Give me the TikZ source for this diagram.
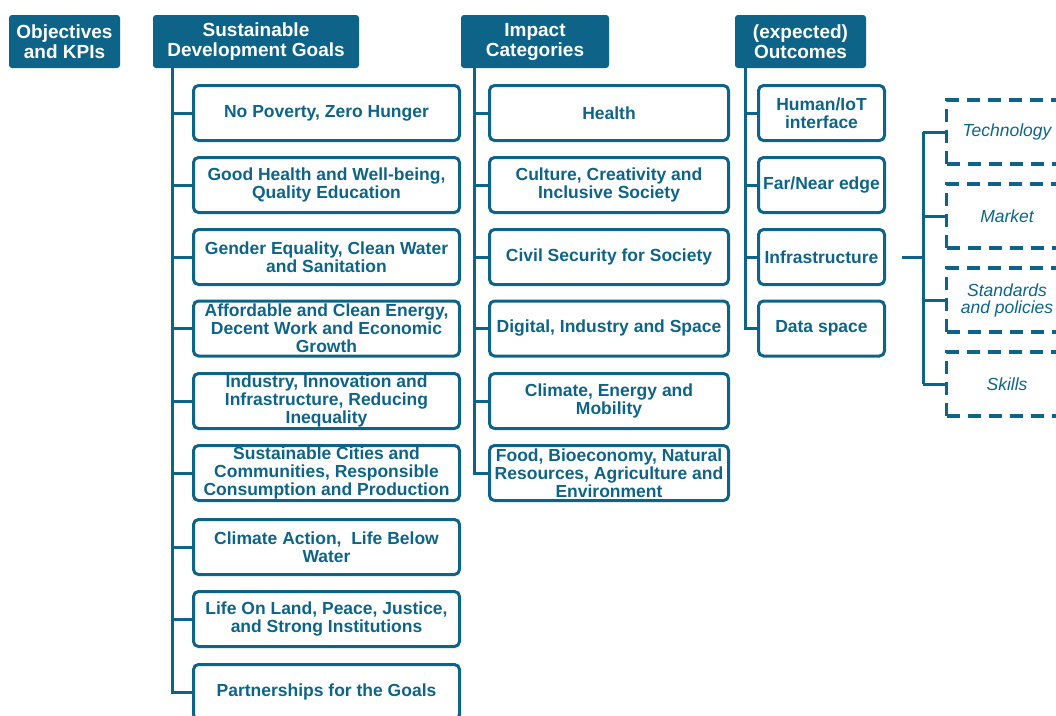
\documentclass[tikz,border=0pt]{standalone}
\usepackage{fontspec}
\setmainfont{Liberation Sans}
\definecolor{sdgblue}{RGB}{14,100,136}

\begin{document}
\begin{tikzpicture}[x=1pt,y=-1pt,line width=3pt]

      \useasboundingbox (0,0) rectangle (1056,715);
      \clip (0,0) rectangle (1056,715);

      % column headers
      \begin{scope}[every node/.style={fill=sdgblue,text=white,rounded corners=3pt,inner sep=0pt,
          minimum height=53pt,align=center,font=\bfseries\fontsize{19}{20}\selectfont}]
        \node[minimum width=111pt] (obj) at (64.5,41.5)  {Objectives\\and KPIs};
        \node[minimum width=206pt] (sdg) at (256,41.5)   {Sustainable\\Development Goals};
        \node[minimum width=148pt] (imp) at (535,41.5)   {Impact\\Categories};
        \node[minimum width=131pt] (out) at (800.5,41.5) {(expected)\\Outcomes};
      \end{scope}

      % solid boxes
      \begin{scope}[every node/.style={draw=sdgblue,text=sdgblue,rounded corners=5pt,inner sep=0pt,
          line width=3pt,minimum height=55pt,align=center,font=\bfseries\fontsize{17.5}{18}\selectfont}]
        \begin{scope}[every node/.append style={minimum width=266pt}]
          \node (g1) at (326.5,113)   {No Poverty, Zero Hunger};
          \node (g2) at (326.5,185)   {Good Health and Well-being,\\Quality Education};
          \node (g3) at (326.5,257)   {Gender Equality, Clean Water\\and Sanitation};
          \node (g4) at (326.5,328.5) {Affordable and Clean Energy,\\Decent Work and Economic\\Growth};
          \node (g5) at (326.5,401)   {Industry, Innovation and\\Infrastructure, Reducing\\Inequality};
          \node (g6) at (326.5,473)   {Sustainable Cities and\\Communities, Responsible\\Consumption and Production};
          \node (g7) at (326.5,547)   {Climate Action,\ \ Life Below\\Water};
          \node (g8) at (326.5,619)   {Life On Land, Peace, Justice,\\and Strong Institutions};
          \node (g9) at (326.5,692)   {Partnerships for the Goals};
        \end{scope}
        \begin{scope}[every node/.append style={minimum width=239pt}]
          \node (c1) at (609,113)   {Health};
          \node (c2) at (609,185)   {Culture, Creativity and\\Inclusive Society};
          \node (c3) at (609,257)   {Civil Security for Society};
          \node (c4) at (609,328.5) {Digital, Industry and Space};
          \node (c5) at (609,401)   {Climate, Energy and\\Mobility};
          \node (c6) at (609,473)   {Food, Bioeconomy, Natural\\Resources, Agriculture and\\Environment};
        \end{scope}
        \begin{scope}[every node/.append style={minimum width=126pt}]
          \node (o1) at (821.5,113)   {Human/IoT\\interface};
          \node (o2) at (821.5,185)   {Far/Near edge};
          \node (o3) at (821.5,257)   {Infrastructure};
          \node (o4) at (821.5,328.5) {Data space};
        \end{scope}
      \end{scope}

      % dashed boxes
      \begin{scope}[every node/.style={draw=sdgblue,text=sdgblue,dash pattern=on 13pt off 8pt,inner sep=0pt,
          line width=3.2pt,minimum width=121pt,minimum height=64pt,align=center,
          font=\itshape\fontsize{17.5}{17}\selectfont}]
        \node (d1) at (1007,132) {Technology};
        \node (d2) at (1007,216) {Market};
        \node (d3) at (1007,300) {Standards\\and policies};
        \node (d4) at (1007,384) {Skills};
      \end{scope}

      % trunks and branches
      \begin{scope}[draw=sdgblue]
        \coordinate (gtop) at (172,68);
        \coordinate (ctop) at (474,68);
        \coordinate (otop) at (745,68);
        \coordinate (fork) at (923,257);

        \draw (gtop) |- (g9.west);
        \draw (gtop |- g1.west) -- (g1.west);
        \draw (gtop |- g2.west) -- (g2.west);
        \draw (gtop |- g3.west) -- (g3.west);
        \draw (gtop |- g4.west) -- (g4.west);
        \draw (gtop |- g5.west) -- (g5.west);
        \draw (gtop |- g6.west) -- (g6.west);
        \draw (gtop |- g7.west) -- (g7.west);
        \draw (gtop |- g8.west) -- (g8.west);

        \draw (ctop) |- (c6.west);
        \draw (ctop |- c1.west) -- (c1.west);
        \draw (ctop |- c2.west) -- (c2.west);
        \draw (ctop |- c3.west) -- (c3.west);
        \draw (ctop |- c4.west) -- (c4.west);
        \draw (ctop |- c5.west) -- (c5.west);

        \draw (otop) |- (o4.west);
        \draw (otop |- o1.west) -- (o1.west);
        \draw (otop |- o2.west) -- (o2.west);
        \draw (otop |- o3.west) -- (o3.west);

        \draw ([xshift=16pt]o3.east) -- (fork);
        \draw (fork |- d1.west) -- (fork |- d4.west);
        \draw (fork |- d1.west) -- (d1.west);
        \draw (fork |- d2.west) -- (d2.west);
        \draw (fork |- d3.west) -- (d3.west);
        \draw (fork |- d4.west) -- (d4.west);
      \end{scope}

    \end{tikzpicture}
\end{document}
